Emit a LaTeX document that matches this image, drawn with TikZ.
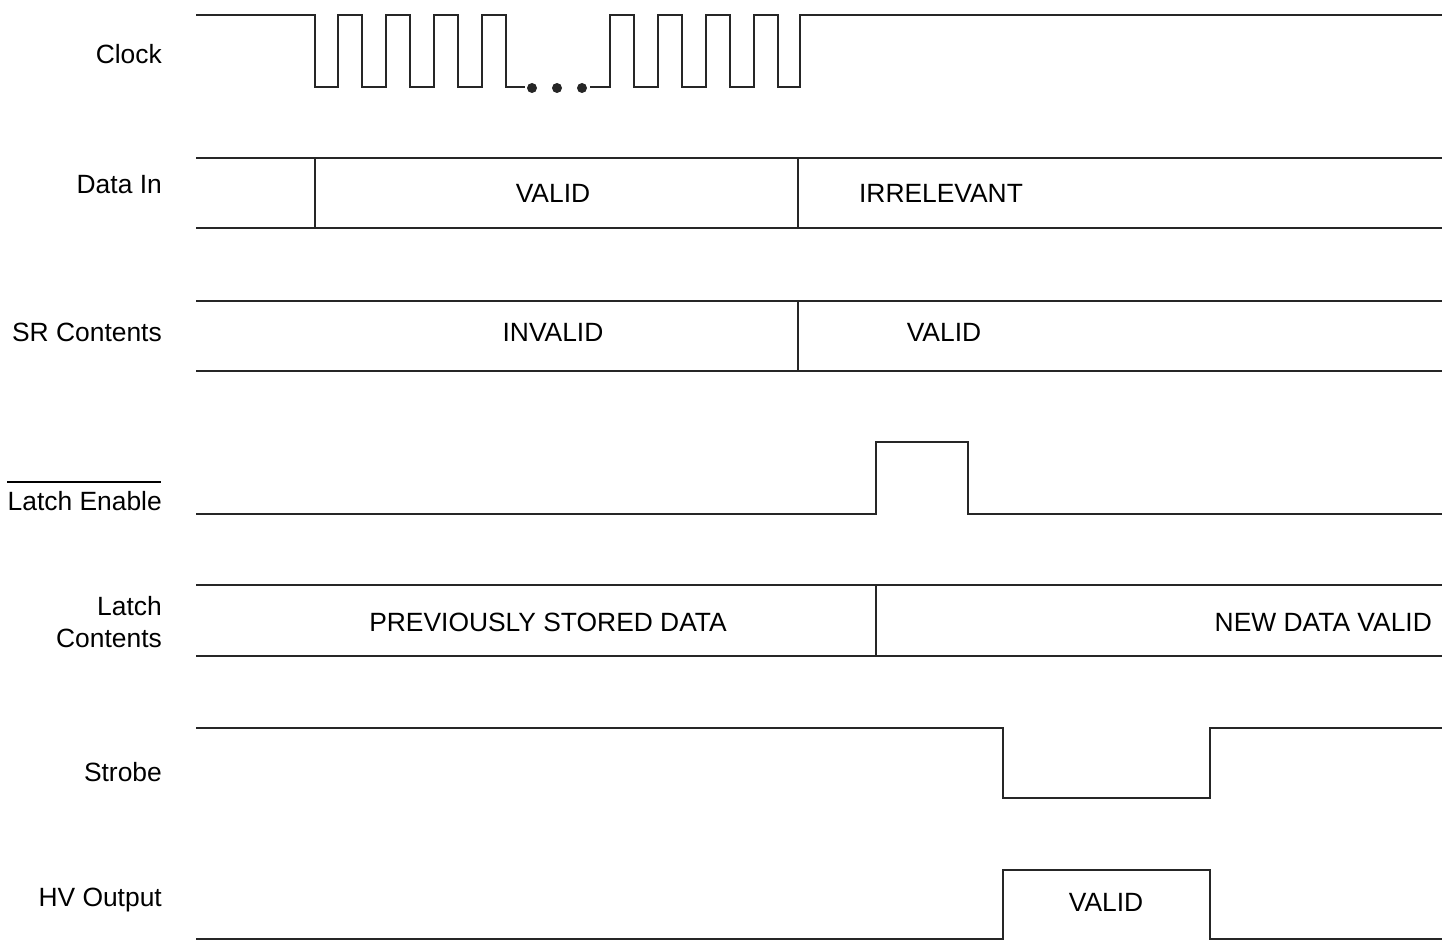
\documentclass[tikz,border=0pt]{standalone}
\usepackage{fontspec}
\setmainfont{Liberation Sans}
\begin{document}
\begin{tikzpicture}[x=1pt,y=-1pt,
  sig/.style={line width=2.8pt, line join=miter, draw=black!85},
  lbl/.style={anchor=east, inner sep=0pt, font=\fontsize{26.4}{31}\selectfont},
  txt/.style={inner sep=0pt, font=\fontsize{26.4}{31}\selectfont}]
\useasboundingbox (0,0) rectangle (1442,941);
% Clock
\node[lbl] (lclk) at (162,54) {Clock};
\draw[sig] (196,15) -- (315,15) -- (315,87) -- (338,87) -- (338,15) -- (362,15) -- (362,87)
  -- (386,87) -- (386,15) -- (410,15) -- (410,87) -- (434,87) -- (434,15) -- (458,15) -- (458,87)
  -- (482,87) -- (482,15) -- (506,15) -- (506,87) -- (525,87);
\fill[black!85] (532,88) circle (5) (557,88) circle (5) (582,88) circle (5);
\draw[sig] (590,87) -- (610,87) -- (610,15) -- (634,15) -- (634,87) -- (658,87) -- (658,15)
  -- (682,15) -- (682,87) -- (706,87) -- (706,15) -- (730,15) -- (730,87) -- (754,87) -- (754,15)
  -- (778,15) -- (778,87) -- (800,87) -- (800,15) -- (1442,15);
% Data In
\node[lbl] (ldin) at (162,185) {Data In};
\draw[sig] (196,158) -- (1442,158);
\draw[sig] (196,228) -- (1442,228);
\draw[sig] (315,158) -- (315,228);
\draw[sig] (798,158) -- (798,228);
\node[txt] (dvalid) at (553,193) {VALID};
\node[txt] (dirr) at (941,193) {IRRELEVANT};
% SR Contents
\node[lbl] (lsr) at (162,332) {SR Contents};
\draw[sig] (196,301) -- (1442,301);
\draw[sig] (196,371) -- (1442,371);
\draw[sig] (798,301) -- (798,371);
\node[txt] (srinv) at (553,332) {INVALID};
\node[txt] (srval) at (944,332) {VALID};
% Latch Enable
\node[lbl] (lle) at (162,501) {Latch Enable};
\draw[line width=1.2pt] (lle.west |- 0,482) -- (161,482);
\draw[sig] (196,514) -- (876,514) -- (876,442) -- (968,442) -- (968,514) -- (1442,514);
% Latch Contents
\node[lbl, align=right] (llc) at (162,622) {Latch\\[1pt]Contents};
\draw[sig] (196,585) -- (1442,585);
\draw[sig] (196,656) -- (1442,656);
\draw[sig] (876,585) -- (876,656);
\node[txt] (prev) at (548,622) {PREVIOUSLY STORED DATA};
\node[txt, anchor=east] (newd) at (1432,622) {NEW DATA VALID};
% Strobe
\node[lbl] (lstb) at (162,772) {Strobe};
\draw[sig] (196,728) -- (1003,728) -- (1003,798) -- (1210,798) -- (1210,728) -- (1442,728);
% HV Output
\node[lbl] (lhv) at (162,900) {HV Output};
\draw[sig] (196,939) -- (1003,939) -- (1003,870) -- (1210,870) -- (1210,939) -- (1442,939);
\node[txt] (hvv) at (1106,902) {VALID};
\end{tikzpicture}
\end{document}
